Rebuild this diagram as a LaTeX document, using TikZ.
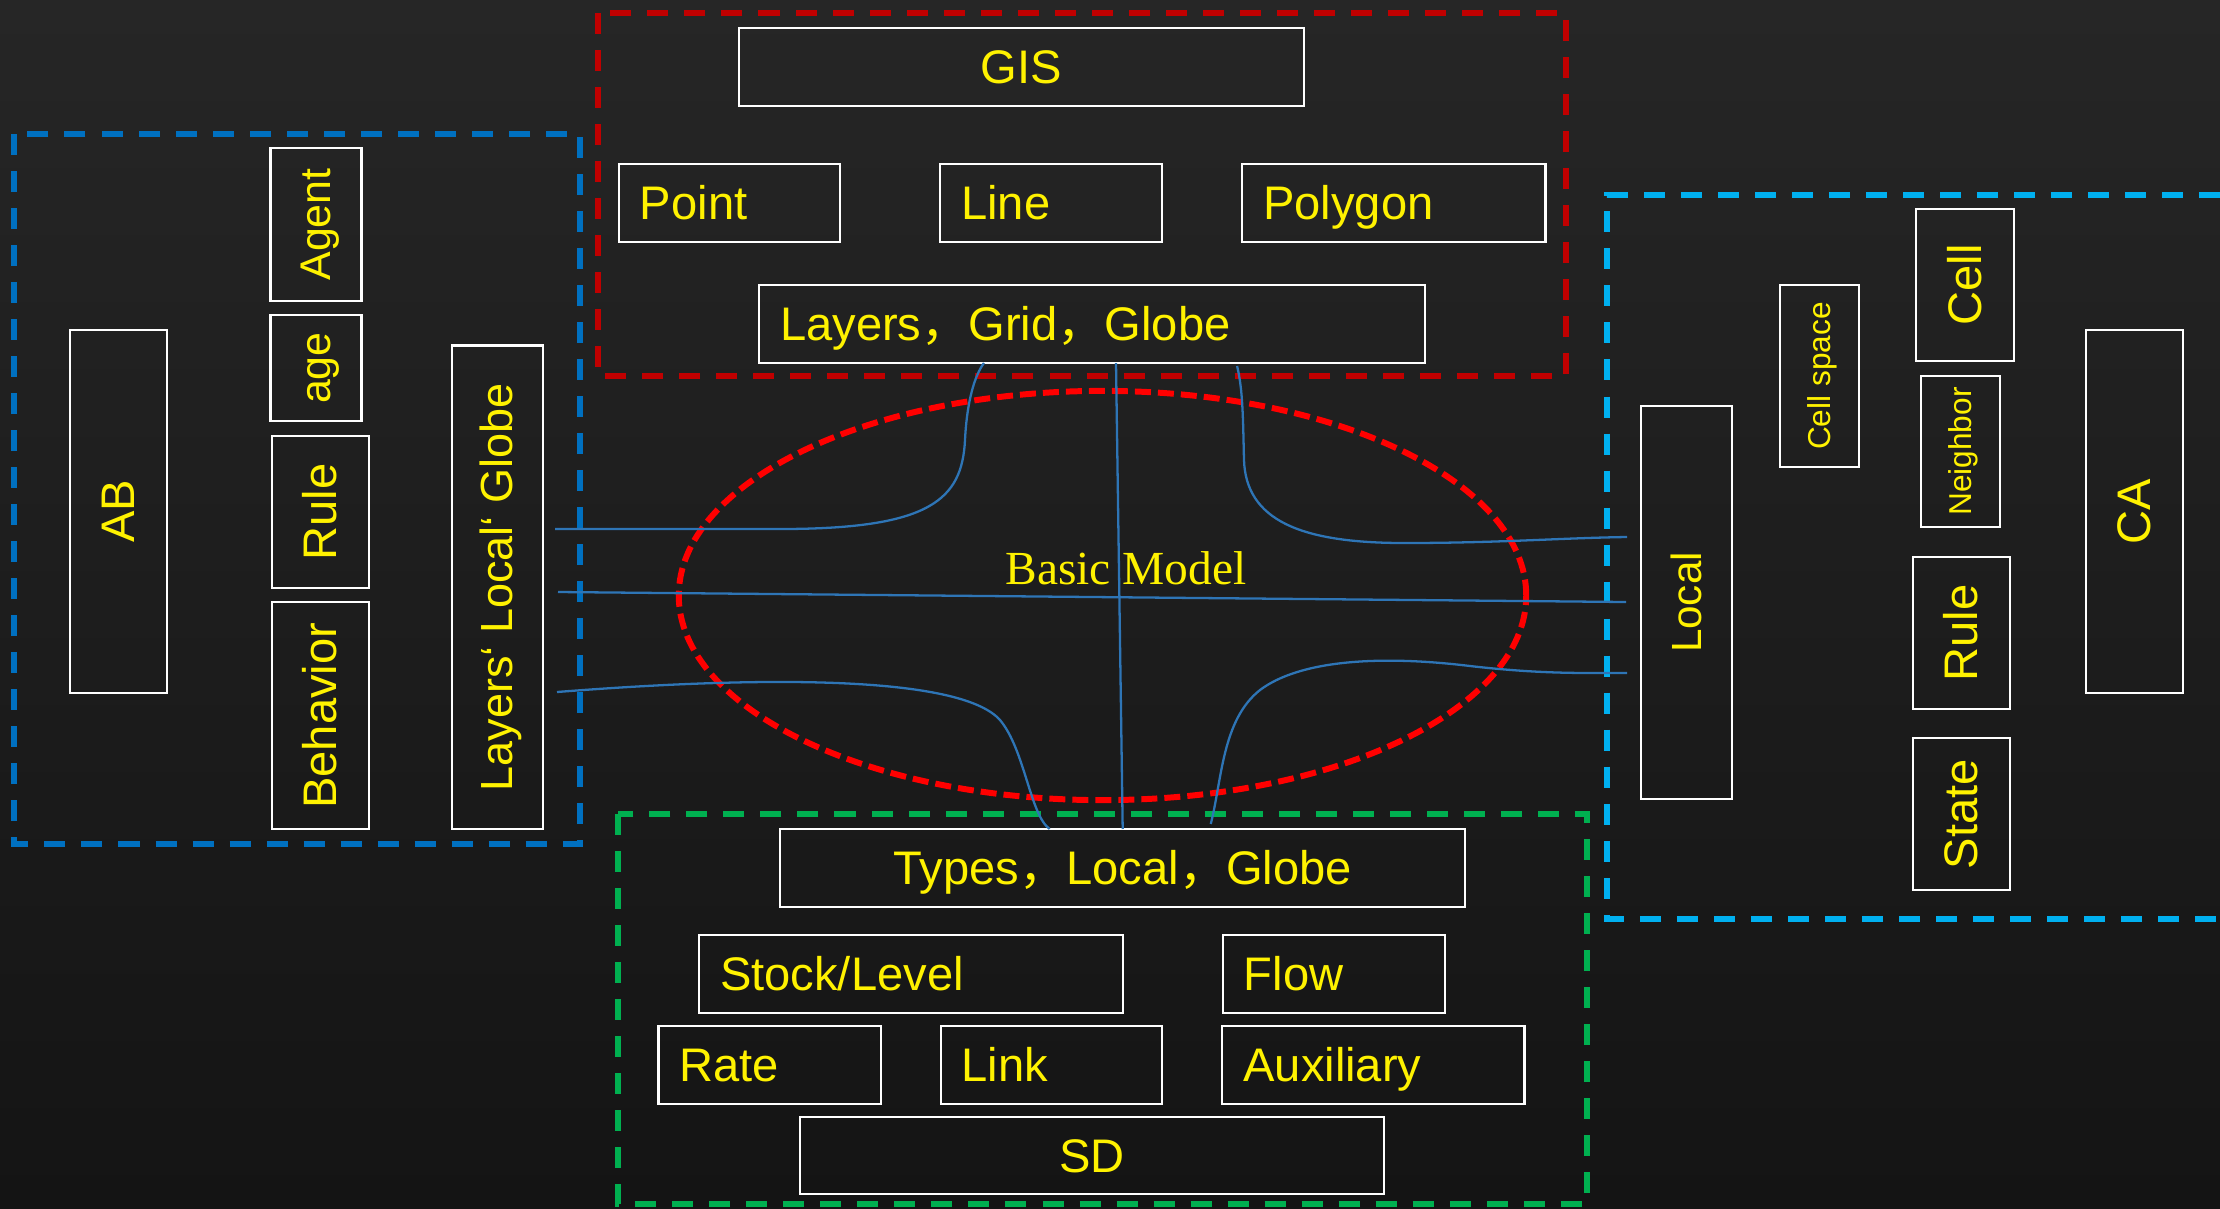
\documentclass[tikz,border=0pt]{standalone}
\usepackage{fontspec}
\setmainfont{Liberation Sans}
\newfontfamily\serifbm{Liberation Serif}
\newfontfamily\cjk{Noto Sans CJK SC}
\usepackage{graphicx}
\usetikzlibrary{shapes.geometric, positioning}

\definecolor{frameblue}{RGB}{0,112,192}
\definecolor{framered}{RGB}{192,0,0}
\definecolor{framegreen}{RGB}{0,176,80}
\definecolor{framecyan}{RGB}{0,176,240}
\definecolor{wireblue}{RGB}{46,117,182}
\definecolor{bgtop}{RGB}{38,38,38}
\definecolor{bgbot}{RGB}{20,20,20}

\newcommand{\sidetext}[1]{\rotatebox{90}{\vphantom{A}\smash{#1}}}

\begin{document}
\begin{tikzpicture}[
        x=0.01cm, y=-0.01cm,
        boxbase/.style={draw=white, line width=0.6pt, text=yellow, inner sep=0pt, outer sep=0pt, font=\fontsize{13.4}{16}\selectfont},
        tbox/.style={boxbase, minimum height=0.78cm, text height=9.6pt, text depth=0pt},
        lbox/.style={tbox, inner xsep=0.21cm, align=left},
        rbox/.style={boxbase},
        midfont/.style={font=\fontsize{12.2}{14}\selectfont},
        smallfont/.style={font=\fontsize{9}{11}\selectfont},
        zone/.style={dash pattern=on 0.21cm off 0.16cm, line width=1.5pt},
        wire/.style={draw=wireblue, line width=0.65pt}
    ]
        % Background
        \useasboundingbox (0,0) rectangle (2220,1208);
        \shade[top color=bgtop, bottom color=bgbot] (0,0) rectangle (2220,1208);

        % Frames
        \draw[zone, draw=frameblue] (14,134) rectangle (580,844);
        \draw[zone, draw=framered] (598,13) rectangle (1566,376);
        \draw[zone, draw=framegreen] (618,814) rectangle (1587,1204);
        \draw[zone, draw=framecyan] (2220,195) -- (1607,195) -- (1607,919) -- (2220,919);

        % GIS
        \node (gis) [tbox, minimum width=5.65cm] at (1021.5,67) {GIS};
        \node (point) [lbox, text width=1.79cm] at (729.5,203) {Point};
        \node (line) [lbox, text width=1.80cm, right=1.0cm of point] {Line};
        \node (polygon) [lbox, text width=2.61cm, right=0.8cm of line] {Polygon};
        \node (glg) [lbox, text width=6.235cm] at (1092,324) {Layers{\cjk ，}Grid{\cjk ，}Globe};

        % SD
        \node (tlg) [tbox, minimum width=6.845cm] at (1122.7,868) {Types{\cjk ，}Local{\cjk ，}Globe};
        \node (stock) [lbox, text width=3.815cm] at (911,974) {Stock/Level};
        \node (flow) [lbox, text width=1.80cm, right=1.0cm of stock] {Flow};
        \node (rate) [lbox, text width=1.80cm] at (769.6,1064.7) {Rate};
        \node (link) [lbox, text width=1.795cm, right=0.6cm of rate] {Link};
        \node (aux) [lbox, text width=2.60cm, right=0.6cm of link] {Auxiliary};
        \node (sd) [tbox, minimum width=5.84cm, minimum height=0.77cm] at (1092,1155.5) {SD};

        % AB
        \node (ab) [rbox, minimum width=0.97cm, minimum height=3.63cm] at (118.5,511.5) {\sidetext{AB}};
        \node (agent) [rbox, midfont, minimum width=0.91cm, minimum height=1.53cm] at (316,224.5) {\sidetext{Agent}};
        \node (age) [rbox, midfont, minimum width=0.91cm, minimum height=1.06cm, below=0.14cm of agent] {\sidetext{age}};
        \node (rulel) [rbox, minimum width=0.975cm, minimum height=1.52cm, below=0.15cm of age, xshift=0.045cm] {\sidetext{Rule}};
        \node (behav) [rbox, minimum width=0.975cm, minimum height=2.27cm, below=0.14cm of rulel] {\sidetext{Behavior}};
        \node (llg) [rbox, font=\fontsize{12.8}{15}\selectfont, minimum width=0.91cm, minimum height=4.834cm] at (497.5,587.3) {\sidetext{Layers‘ Local‘ Globe}};

        % CA
        \node (local) [rbox, font=\fontsize{12}{14}\selectfont, minimum width=0.91cm, minimum height=3.93cm] at (1686.5,602.5) {\sidetext{Local}};
        \node (cspace) [rbox, smallfont, minimum width=0.79cm, minimum height=1.82cm] at (1819.5,376) {\sidetext{Cell space}};
        \node (cell) [rbox, minimum width=0.98cm, minimum height=1.52cm] at (1965,285) {\sidetext{Cell}};
        \node (neigh) [rbox, smallfont, minimum width=0.79cm, minimum height=1.51cm, below=0.15cm of cell, xshift=-0.045cm] {\sidetext{Neighbor}};
        \node (ruler) [rbox, minimum width=0.97cm, minimum height=1.52cm, below=0.30cm of neigh, xshift=0.01cm] {\sidetext{Rule}};
        \node (state) [rbox, minimum width=0.97cm, minimum height=1.52cm, below=0.29cm of ruler] {\sidetext{State}};
        \node (ca) [rbox, minimum width=0.97cm, minimum height=3.63cm] at (2134.5,511.5) {\sidetext{CA}};

        % Basic model
        \node (core) [ellipse, draw=red, line width=1.7pt, dash pattern=on 0.16cm off 0.07cm, minimum width=8.47cm, minimum height=4.09cm, inner sep=0pt] at (1102.5,595.5) {};
        \node (basic) [text=yellow, font=\serifbm\fontsize{13.5}{16}\selectfont] at (1126,568) {Basic Model};

        % Wires
        \coordinate (ul) at (555,529);
        \coordinate (ur) at (1627,537);
        \coordinate (ll) at (557,692);
        \coordinate (lr) at (1627,673);
        \coordinate (ml) at (558,592);
        \coordinate (mr) at (1626,602);

        \draw[wire] ([xshift=0.24cm]glg.south) -- (tlg.north);
        \draw[wire] (ml) -- (mr);
        \draw[wire] (ul) -- (780,529) .. controls (930,529) and (962,500) .. (965,440)
            .. controls (967,400) and (975,375) .. ([xshift=-1.08cm]glg.south);
        \draw[wire] ([xshift=1.45cm, yshift=-0.03cm]glg.south) .. controls (1243,390) and (1243,420) .. (1244,460)
            .. controls (1246,520) and (1300,543) .. (1404,543) .. controls (1500,543) and (1560,538) .. (ur);
        \draw[wire] (ll) .. controls (760,676) and (960,675) .. (1000,720)
            .. controls (1025,750) and (1030,815) .. ([xshift=-0.73cm]tlg.north);
        \draw[wire] ([xshift=0.88cm, yshift=0.05cm]tlg.north) .. controls (1222,780) and (1222,720) .. (1260,690)
            .. controls (1300,660) and (1380,655) .. (1470,666) .. controls (1540,674) and (1580,673) .. (lr);
    \end{tikzpicture}
\end{document}
